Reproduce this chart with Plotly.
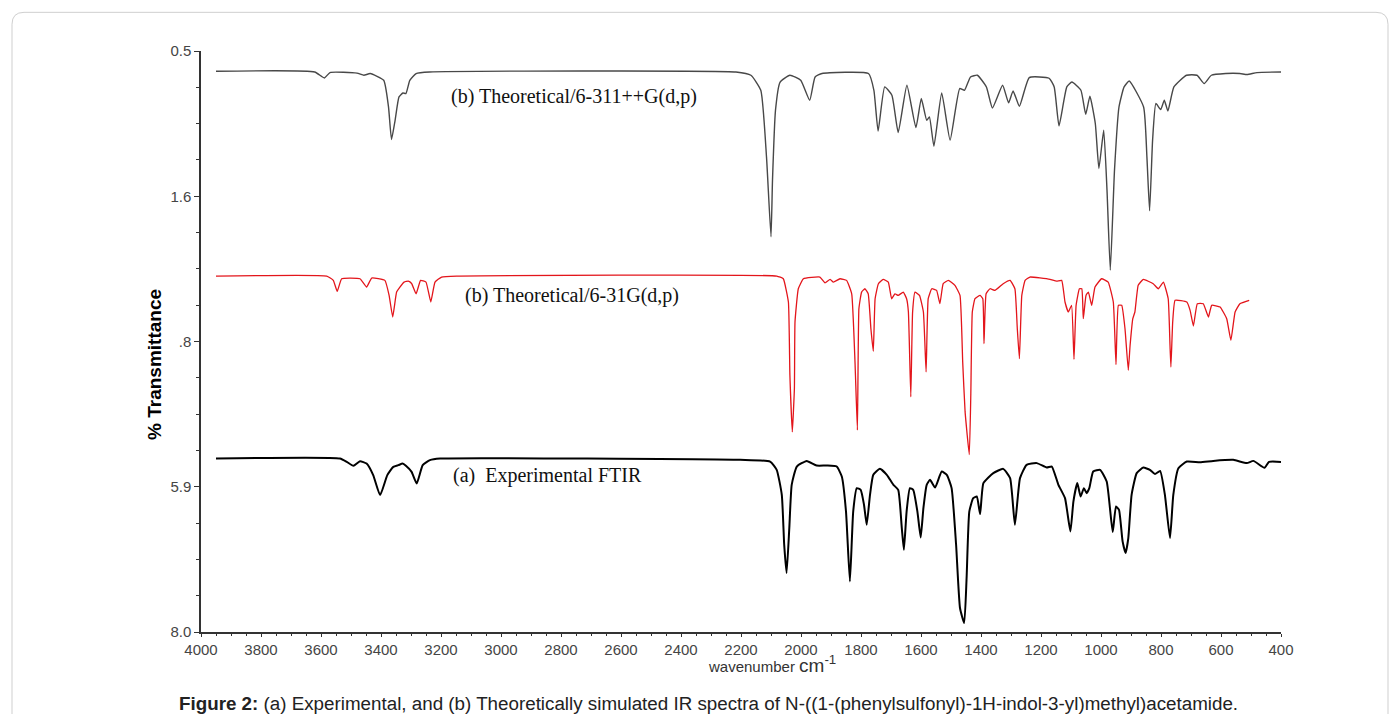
import plotly.graph_objects as go

# ---------------- data ----------------
wn_b311 = [3950, 3621, 3589, 3570, 3480, 3457, 3436, 3391, 3375, 3365, 3353, 3340, 3327, 3317, 3304, 3283, 3238,
           2217, 2167, 2134, 2115, 2100, 2095, 2085, 2070, 2037, 2001, 1971, 1953, 1930, 1775, 1757, 1743, 1721,
           1697, 1676, 1647, 1617, 1599, 1581, 1572, 1557, 1531, 1503, 1471, 1455, 1435, 1412, 1382, 1362, 1328,
           1308, 1293, 1272, 1239, 1173, 1156, 1140, 1114, 1097, 1067, 1051, 1037, 1019, 1007, 991, 980, 969, 955,
           940, 923, 906, 858, 847, 838, 828, 817, 801, 789, 777, 757, 715, 680, 656, 632, 584, 537, 513, 480, 400]
t_b311 = [0.762, 0.771, 0.848, 0.778, 0.785, 0.813, 0.791, 0.878, 1.222, 1.642, 1.394, 1.093, 1.042, 1.049, 0.878,
          0.791, 0.771, 0.771, 0.813, 1.007, 1.867, 2.898, 2.167, 1.264, 0.904, 0.813, 0.878, 1.136, 0.835, 0.791,
          0.791, 1.007, 1.532, 0.964, 1.071, 1.552, 0.942, 1.488, 1.114, 1.394, 1.351, 1.729, 1.042, 1.651, 0.985,
          1.007, 0.835, 0.813, 0.964, 1.235, 0.942, 1.170, 1.016, 1.213, 0.843, 0.852, 0.964, 1.467, 0.964, 0.900,
          1.007, 1.316, 1.084, 1.436, 2.016, 1.523, 2.296, 3.328, 2.038, 1.222, 0.964, 0.887, 1.222, 1.867, 2.563,
          1.651, 1.178, 1.256, 1.136, 1.274, 0.964, 0.813, 0.813, 0.920, 0.813, 0.791, 0.791, 0.804, 0.779, 0.771]

wn_b31 = [3950, 3581, 3559, 3546, 3531, 3470, 3448, 3431, 3387, 3373, 3361, 3348, 3337, 3323, 3309, 3298, 3283,
          3268, 3250, 3234, 3220, 3198, 3148, 2081, 2059, 2042, 2037, 2029, 2022, 2020, 2009, 1992, 1937, 1920,
          1903, 1892, 1870, 1848, 1831, 1820, 1812, 1807, 1798, 1787, 1776, 1767, 1759, 1753, 1742, 1726, 1709,
          1698, 1687, 1676, 1659, 1648, 1642, 1634, 1628, 1620, 1605, 1592, 1583, 1576, 1564, 1548, 1537, 1526,
          1509, 1487, 1470, 1461, 1453, 1439, 1434, 1429, 1420, 1403, 1394, 1390, 1383, 1370, 1353, 1326, 1303,
          1287, 1279, 1272, 1264, 1253, 1237, 1170, 1148, 1131, 1120, 1109, 1098, 1090, 1083, 1072, 1064, 1059,
          1050, 1042, 1031, 1020, 998, 976, 959, 950, 942, 931, 920, 909, 903, 894, 887, 876, 859, 826, 809, 792,
          776, 770, 767, 761, 753, 714, 703, 692, 679, 659, 642, 631, 603, 581, 567, 553, 537, 506]
t_b31 = [3.405, 3.405, 3.461, 3.603, 3.440, 3.440, 3.547, 3.431, 3.461, 3.654, 3.934, 3.612, 3.547, 3.483, 3.470,
         3.501, 3.634, 3.461, 3.483, 3.740, 3.483, 3.418, 3.405, 3.405, 3.440, 3.740, 4.686, 5.417, 4.858, 3.998,
         3.569, 3.440, 3.418, 3.492, 3.448, 3.483, 3.440, 3.461, 3.634, 4.514, 5.395, 3.827, 3.612, 3.569, 3.634,
         4.085, 4.376, 3.698, 3.504, 3.448, 3.483, 3.698, 3.634, 3.655, 3.612, 3.698, 3.869, 4.965, 3.869, 3.612,
         3.655, 3.869, 4.643, 3.698, 3.569, 3.590, 3.762, 3.504, 3.461, 3.525, 3.655, 4.514, 5.159, 5.710, 4.944,
         3.869, 3.698, 3.655, 3.698, 4.278, 3.634, 3.569, 3.590, 3.504, 3.461, 3.569, 4.085, 4.472, 3.655, 3.461,
         3.418, 3.448, 3.470, 3.461, 3.740, 3.869, 3.783, 4.479, 3.783, 3.569, 3.569, 3.956, 3.655, 3.612, 3.783,
         3.547, 3.440, 3.483, 3.740, 4.549, 3.783, 3.783, 4.085, 4.621, 4.299, 3.956, 3.869, 3.525, 3.448, 3.504,
         3.569, 3.483, 3.698, 4.299, 4.579, 3.998, 3.718, 3.740, 3.848, 4.050, 3.762, 3.762, 3.934, 3.783, 3.805,
         3.956, 4.234, 3.869, 3.762, 3.718]

wn_exp = [3950, 3537, 3514, 3492, 3470, 3448, 3426, 3403, 3379, 3359, 3342, 3328, 3317, 3298, 3281, 3261, 3237,
          3203, 2203, 2103, 2081, 2064, 2056, 2048, 2039, 2031, 2014, 1981, 1948, 1914, 1881, 1864, 1850, 1837,
          1826, 1814, 1801, 1790, 1781, 1770, 1759, 1737, 1714, 1692, 1676, 1664, 1657, 1648, 1637, 1626, 1612,
          1601, 1592, 1581, 1570, 1553, 1531, 1514, 1498, 1483, 1470, 1456, 1448, 1439, 1426, 1414, 1403, 1392,
          1359, 1326, 1303, 1287, 1270, 1248, 1214, 1181, 1164, 1142, 1120, 1102, 1092, 1079, 1068, 1057, 1048,
          1039, 1026, 1003, 981, 961, 950, 940, 928, 918, 909, 898, 881, 859, 837, 820, 803, 787, 770, 759, 742,
          714, 670, 626, 559, 514, 492, 455, 440, 400]
t_exp = [5.761, 5.761, 5.804, 5.855, 5.795, 5.826, 5.975, 6.233, 5.975, 5.868, 5.846, 5.826, 5.855, 5.933, 6.083,
         5.846, 5.782, 5.761, 5.778, 5.800, 5.907, 6.229, 6.874, 7.239, 6.659, 6.100, 5.864, 5.791, 5.851, 5.851,
         5.864, 5.993, 6.445, 7.347, 6.445, 6.143, 6.165, 6.358, 6.616, 6.229, 5.971, 5.894, 5.971, 6.100, 6.165,
         6.659, 6.938, 6.445, 6.143, 6.165, 6.445, 6.780, 6.401, 6.100, 6.036, 6.135, 5.929, 5.971, 6.143, 6.874,
         7.690, 7.884, 7.303, 6.445, 6.272, 6.251, 6.478, 6.078, 5.949, 5.894, 6.014, 6.616, 6.014, 5.842, 5.820,
         5.877, 5.864, 6.100, 6.272, 6.702, 6.316, 6.078, 6.251, 6.143, 6.208, 6.143, 5.929, 5.907, 6.058, 6.710,
         6.380, 6.423, 6.831, 6.981, 6.788, 6.229, 5.949, 5.877, 5.907, 5.962, 5.920, 6.229, 6.788, 6.229, 5.885,
         5.800, 5.808, 5.791, 5.778, 5.820, 5.791, 5.881, 5.804, 5.804]

y_tickvals = [0.5, 2.375, 4.25, 6.125, 8.0]
y_ticktext = ["0.5", "1.6", ".8", "5.9", "8.0"]
y_minorvals = [0.5 + i * 0.46875 for i in range(17)]

label_b311 = "(b) Theoretical/6-311++G(d,p)"
label_b31 = "(b) Theoretical/6-31G(d,p)"
label_exp = "(a) \u00a0Experimental FTIR"
caption = ("<b>Figure 2:</b> (a) Experimental, and (b) Theoretically simulated IR spectra of "
           "N-((1-(phenylsulfonyl)-1H-indol-3-yl)methyl)acetamide.")

# ---------------- figure ----------------
fig = go.Figure()
fig.add_trace(go.Scatter(x=wn_b311, y=t_b311, mode="lines",
                         line=dict(color="#484848", width=1.4, shape="spline", smoothing=0.45),
                         name=label_b311))
fig.add_trace(go.Scatter(x=wn_b31, y=t_b31, mode="lines",
                         line=dict(color="#e3151b", width=1.3, shape="spline", smoothing=0.35),
                         name=label_b31))
fig.add_trace(go.Scatter(x=wn_exp, y=t_exp, mode="lines",
                         line=dict(color="#000000", width=2, shape="spline", smoothing=0.45),
                         name=label_exp))

W, H = 1384, 706
ML, MR, MT, MB = 193, 111, 42.7, 81.7
PW, PH = W - ML - MR, H - MT - MB


def px(fx):
    return (fx - ML) / PW


def py(fy):
    return (H - MB - fy) / PH


tickfont = dict(family="Liberation Sans, Arial, sans-serif", size=15, color="#454545")
fig.update_xaxes(range=[4000, 400], tickmode="linear", tick0=400, dtick=200,
                 showline=True, linecolor="#333", linewidth=1.5, mirror=False,
                 ticks="outside", ticklen=3, tickcolor="#333", tickwidth=1.2,
                 minor=dict(dtick=50, ticklen=2, ticks="outside", tickcolor="#333"),
                 showgrid=False, zeroline=False, tickfont=tickfont)
fig.update_yaxes(range=[8.0, 0.5], tickmode="array", tickvals=y_tickvals, ticktext=y_ticktext,
                 showline=True, linecolor="#333", linewidth=1.5,
                 ticks="outside", ticklen=5, tickcolor="#333", tickwidth=1.2,
                 minor=dict(tickmode="array", tickvals=y_minorvals, ticklen=3, ticks="outside",
                            tickcolor="#333"),
                 showgrid=False, zeroline=False, tickfont=tickfont)

serif = dict(family="Liberation Serif, Times New Roman, serif", size=20, color="#111")
annotations = [
    dict(x=3175, y=1.09, xref="x", yref="y", text=label_b311, showarrow=False,
         xanchor="left", yanchor="middle", font=serif),
    dict(x=3128, y=3.654, xref="x", yref="y", text=label_b31, showarrow=False,
         xanchor="left", yanchor="middle", font=serif),
    dict(x=3168, y=5.975, xref="x", yref="y", text=label_exp, showarrow=False,
         xanchor="left", yanchor="middle", font=serif),
    dict(x=px(147), y=py(357), xref="paper", yref="paper", text="<b>% Transmittance</b>",
         textangle=-90, showarrow=False, xanchor="center", yanchor="middle",
         font=dict(family="Liberation Sans, Arial, sans-serif", size=19, color="#000")),
    dict(x=px(764), y=py(656), xref="paper", yref="paper",
         text="wavenumber <span style='font-size:19px'>cm<sup>-1</sup></span>",
         showarrow=False, xanchor="center", yanchor="middle",
         font=dict(family="Liberation Sans, Arial, sans-serif", size=15, color="#333")),
    dict(x=px(700), y=py(696), xref="paper", yref="paper", text=caption,
         showarrow=False, xanchor="center", yanchor="middle",
         font=dict(family="Liberation Sans, Arial, sans-serif", size=18.8, color="#222")),
]

# rounded frame around the whole figure
x0, x1, y0, y1 = px(4), px(1380), py(730), py(4)
rx, ry = 12 / PW, 12 / PH
path = (f"M {x0+rx},{y1} L {x1-rx},{y1} Q {x1},{y1} {x1},{y1-ry} L {x1},{y0+ry} "
        f"Q {x1},{y0} {x1-rx},{y0} L {x0+rx},{y0} Q {x0},{y0} {x0},{y0+ry} "
        f"L {x0},{y1-ry} Q {x0},{y1} {x0+rx},{y1} Z")

fig.update_layout(width=W, height=H, margin=dict(l=ML, r=MR, t=MT, b=MB, pad=0),
                  paper_bgcolor="white", plot_bgcolor="white", showlegend=False,
                  annotations=annotations,
                  shapes=[dict(type="path", path=path, xref="paper", yref="paper",
                               line=dict(color="#cfcfcf", width=1), layer="below")])

fig.write_html("out.html")
